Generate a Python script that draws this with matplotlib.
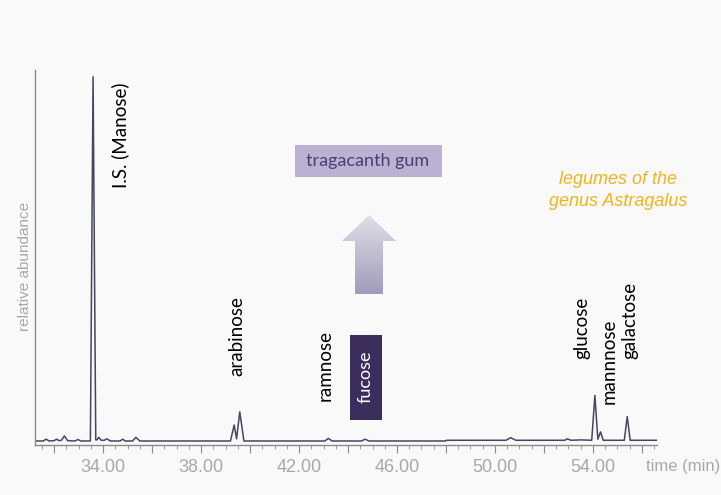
import numpy as np
import matplotlib
matplotlib.use("Agg")
import matplotlib.pyplot as plt
from matplotlib.patches import Polygon, Rectangle
from matplotlib.ticker import MultipleLocator, FixedLocator

# chromatogram trace (time in min, relative abundance)
time = [31.2, 31.55, 31.67, 31.8, 32.0, 32.1, 32.2, 32.3, 32.42, 32.55, 32.85, 32.97, 33.1,
        33.48, 33.59, 33.7, 33.75, 33.82, 33.92, 34.05, 34.15, 34.3, 34.7, 34.8, 34.9,
        35.2, 35.34, 35.5, 38.0, 39.2, 39.35, 39.45, 39.58, 39.75, 43.05, 43.2, 43.35,
        44.55, 44.7, 44.85, 47.98, 48.02, 50.45, 50.64, 50.85, 52.85, 52.96, 53.1, 53.5,
        53.95, 54.08, 54.2, 54.31, 54.42, 55.28, 55.4, 55.52, 56.6]
abund = [0.0, 0.0, 0.5, 0.0, 0.1, 0.5, 0.1, 0.2, 1.4, 0.1, 0.0, 0.4, 0.0,
         0.0, 100.0, 0.3, 0.3, 1.0, 0.2, 0.2, 0.6, 0.0, 0.0, 0.5, 0.0,
         0.0, 1.0, 0.0, 0.0, 0.0, 4.4, 0.6, 8.0, 0.0, 0.0, 0.7, 0.0,
         0.0, 0.5, 0.0, 0.0, 0.2, 0.2, 0.9, 0.2, 0.2, 0.6, 0.2, 0.3,
         0.2, 12.5, 0.5, 2.5, 0.2, 0.2, 6.7, 0.2, 0.2]

peak_names = ["I.S. (Manose)", "arabinose", "ramnose", "glucose", "mannnose", "galactose"]
peak_label_x = [34.7, 39.45, 43.05, 53.55, 54.65, 55.5]
peak_label_y = [84.0, 28.8, 20.6, 31.0, 22.0, 33.0]

tick_labels = ["34.00", "38.00", "42.00", "46.00", "50.00", "54.00"]
tick_pos = [34, 38, 42, 46, 50, 54]

bg = "#f9f9f9"
fig = plt.figure(figsize=(7.21, 4.95), dpi=100, facecolor=bg)
ax = fig.add_axes([0.0479, 0.101, 0.8628, 0.758])
ax.set_facecolor(bg)

ax.plot(time, abund, color="#46465f", lw=1.1)
ax.set_xlim(31.2, 56.6)
ax.set_ylim(-1.1, 101.9)

for s in ["top", "right"]:
    ax.spines[s].set_visible(False)
for s in ["left", "bottom"]:
    ax.spines[s].set_color("#8a8a8a")
    ax.spines[s].set_linewidth(1.0)

ax.set_yticks([])
# longer ticks every 2 min, labels every 4 min
major = list(range(32, 57, 2))
ax.xaxis.set_major_locator(FixedLocator(major))
ax.set_xticklabels([tick_labels[tick_pos.index(m)] if m in tick_pos else "" for m in major])
ax.xaxis.set_minor_locator(MultipleLocator(0.5))
ax.tick_params(axis="x", which="major", length=6, color="#8a8a8a", labelsize=13,
               labelcolor="#a8a8a8", pad=4)
ax.tick_params(axis="x", which="minor", length=3, color="#8a8a8a")

for lab in ax.get_xticklabels():
    lab.set_fontfamily("Liberation Sans")

ax.set_ylabel("relative abundance", color="#a8a8a8", fontsize=11,
              fontfamily="Liberation Sans")
ax.yaxis.set_label_coords(-0.0045, 0.475)
fig.text(0.999, 0.058, "time (min)", ha="right", va="center", color="#a8a8a8",
         fontsize=12, fontfamily="Liberation Sans")

for name, px, py in zip(peak_names, peak_label_x, peak_label_y):
    ax.text(px, py, name, rotation=90, ha="center", va="center", fontsize=13.5,
            fontfamily="Lato", color="black")

# overlay in figure pixels for boxes and arrow
ov = fig.add_axes([0, 0, 1, 1])
ov.set_xlim(0, 721)
ov.set_ylim(495, 0)
ov.axis("off")
ov.patch.set_alpha(0)

ov.add_patch(Rectangle((295, 145), 147, 32, facecolor="#b9b2d3", edgecolor="none"))
ov.text(368, 161, "tragacanth gum", ha="center", va="center", fontsize=13,
        fontfamily="Lato", color="#4a3f72")

ov.add_patch(Rectangle((350, 335), 32, 85, facecolor="#3b2e5c", edgecolor="none"))
ov.text(366, 377, "fucose", rotation=90, ha="center", va="center", fontsize=13,
        fontfamily="Lato", color="white")

arrow = Polygon([(369, 215), (396, 241), (383, 241), (383, 294), (355, 294),
                 (355, 241), (342, 241)], closed=True, facecolor="none", edgecolor="none")
ov.add_patch(arrow)
grad = np.linspace(0, 1, 100).reshape(-1, 1)
im = ov.imshow(grad, extent=(340, 398, 294, 215), cmap=matplotlib.colors.LinearSegmentedColormap.from_list(
    "g", ["#e0dee8", "#a19bba"]), aspect="auto", origin="upper", zorder=2)
im.set_clip_path(arrow)

ov.text(618, 180, "legumes of the", ha="center", va="center", fontsize=13,
        fontfamily="Liberation Sans", style="italic", color="#efb41e")
ov.text(618, 202, "genus Astragalus", ha="center", va="center", fontsize=13,
        fontfamily="Liberation Sans", style="italic", color="#efb41e")

fig.savefig("out.png", dpi=100, facecolor=bg)
